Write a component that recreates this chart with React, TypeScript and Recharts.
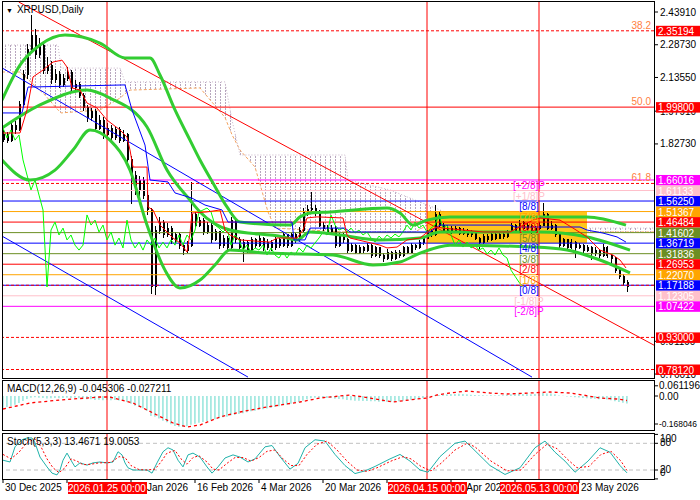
import React from "react";
import {
  ComposedChart,
  Bar,
  Line,
  Area,
  XAxis,
  YAxis,
  ReferenceLine,
  ReferenceArea,
  ReferenceDot,
} from "recharts";

const FONT = "'Liberation Sans', Arial, sans-serif";

// daily candles, day 0 = 30 Dec 2025
const opens = [
  1.850, 1.869, 1.845, 1.915, 1.892, 2.008, 2.147, 2.263, 2.332, 2.240,
  2.286, 2.170, 2.193, 2.124, 2.147, 2.101, 2.133, 2.160, 2.087, 2.101,
  2.054, 1.994, 1.948, 1.976, 1.901, 1.938, 1.869, 1.901, 1.855, 1.892,
  1.845, 1.869, 1.753, 1.683, 1.614, 1.660, 1.590, 1.521, 1.164, 1.428,
  1.465, 1.405, 1.437, 1.382, 1.405, 1.358, 1.335, 1.358, 1.498, 1.451,
  1.474, 1.419, 1.451, 1.382, 1.419, 1.358, 1.391, 1.345, 1.474, 1.382,
  1.345, 1.372, 1.335, 1.382, 1.358, 1.391, 1.345, 1.372, 1.345, 1.382,
  1.358, 1.405, 1.358, 1.405, 1.382, 1.428, 1.512, 1.521, 1.530, 1.512,
  1.451, 1.437, 1.419, 1.437, 1.358, 1.405, 1.382, 1.335, 1.358, 1.326,
  1.345, 1.335, 1.358, 1.312, 1.345, 1.312, 1.298, 1.326, 1.298, 1.326,
  1.312, 1.345, 1.326, 1.358, 1.345, 1.368, 1.391, 1.419, 1.405, 1.498,
  1.451, 1.428, 1.437, 1.419, 1.437, 1.414, 1.428, 1.405, 1.419, 1.391,
  1.372, 1.400, 1.382, 1.405, 1.391, 1.409, 1.396, 1.419, 1.451, 1.428,
  1.465, 1.437, 1.451, 1.419, 1.437, 1.451, 1.498, 1.437, 1.451, 1.405,
  1.358, 1.382, 1.349, 1.372, 1.345, 1.358, 1.335, 1.345, 1.317, 1.335,
  1.312, 1.345, 1.312, 1.298, 1.242, 1.214, 1.186,
];
const highs = [
  1.890, 1.882, 1.930, 1.935, 2.025, 2.170, 2.290, 2.425, 2.360, 2.320,
  2.300, 2.230, 2.210, 2.175, 2.165, 2.150, 2.185, 2.170, 2.125, 2.115,
  2.065, 2.010, 1.995, 1.990, 1.960, 1.950, 1.925, 1.915, 1.910, 1.905,
  1.890, 1.880, 1.770, 1.700, 1.680, 1.675, 1.610, 1.530, 1.445, 1.490,
  1.475, 1.460, 1.445, 1.420, 1.415, 1.370, 1.375, 1.650, 1.510, 1.490,
  1.485, 1.465, 1.460, 1.435, 1.425, 1.405, 1.400, 1.490, 1.480, 1.395,
  1.385, 1.380, 1.395, 1.392, 1.405, 1.398, 1.385, 1.380, 1.395, 1.390,
  1.418, 1.410, 1.415, 1.412, 1.440, 1.530, 1.545, 1.604, 1.545, 1.520,
  1.465, 1.450, 1.450, 1.445, 1.415, 1.412, 1.390, 1.370, 1.365, 1.358,
  1.352, 1.368, 1.362, 1.355, 1.350, 1.320, 1.338, 1.332, 1.335, 1.335,
  1.355, 1.352, 1.368, 1.365, 1.380, 1.400, 1.430, 1.432, 1.545, 1.512,
  1.460, 1.450, 1.445, 1.448, 1.442, 1.438, 1.435, 1.428, 1.425, 1.398,
  1.410, 1.408, 1.415, 1.412, 1.418, 1.415, 1.428, 1.462, 1.458, 1.475,
  1.470, 1.462, 1.458, 1.448, 1.465, 1.553, 1.505, 1.470, 1.458, 1.412,
  1.392, 1.388, 1.385, 1.378, 1.370, 1.365, 1.358, 1.352, 1.348, 1.340,
  1.365, 1.352, 1.318, 1.305, 1.250, 1.222, 1.195,
];
const lows = [
  1.835, 1.830, 1.838, 1.875, 1.885, 1.998, 2.130, 2.250, 2.220, 2.225,
  2.150, 2.150, 2.105, 2.110, 2.085, 2.090, 2.120, 2.070, 2.075, 2.040,
  1.980, 1.930, 1.935, 1.885, 1.890, 1.850, 1.855, 1.840, 1.845, 1.830,
  1.835, 1.735, 1.550, 1.590, 1.560, 1.570, 1.500, 1.130, 1.127, 1.410,
  1.390, 1.395, 1.365, 1.370, 1.340, 1.310, 1.320, 1.350, 1.440, 1.440,
  1.405, 1.410, 1.370, 1.375, 1.340, 1.345, 1.330, 1.340, 1.370, 1.330,
  1.280, 1.320, 1.325, 1.345, 1.350, 1.330, 1.335, 1.330, 1.335, 1.345,
  1.350, 1.345, 1.350, 1.370, 1.375, 1.420, 1.495, 1.505, 1.495, 1.440,
  1.425, 1.405, 1.410, 1.345, 1.350, 1.370, 1.320, 1.325, 1.315, 1.318,
  1.322, 1.328, 1.300, 1.305, 1.300, 1.280, 1.290, 1.285, 1.290, 1.300,
  1.305, 1.315, 1.320, 1.335, 1.338, 1.360, 1.385, 1.395, 1.400, 1.440,
  1.418, 1.420, 1.410, 1.412, 1.405, 1.405, 1.395, 1.398, 1.380, 1.340,
  1.365, 1.372, 1.375, 1.382, 1.385, 1.388, 1.390, 1.412, 1.420, 1.422,
  1.428, 1.430, 1.410, 1.412, 1.430, 1.445, 1.428, 1.430, 1.395, 1.345,
  1.350, 1.335, 1.340, 1.300, 1.338, 1.322, 1.325, 1.290, 1.308, 1.300,
  1.305, 1.300, 1.260, 1.230, 1.200, 1.170, 1.140,
];
const closes = [
  1.869, 1.845, 1.915, 1.892, 2.008, 2.147, 2.263, 2.332, 2.240, 2.286,
  2.170, 2.193, 2.124, 2.147, 2.101, 2.133, 2.160, 2.087, 2.101, 2.054,
  1.994, 1.948, 1.976, 1.901, 1.938, 1.869, 1.901, 1.855, 1.892, 1.845,
  1.869, 1.753, 1.683, 1.614, 1.660, 1.590, 1.521, 1.164, 1.428, 1.465,
  1.405, 1.437, 1.382, 1.405, 1.358, 1.335, 1.358, 1.498, 1.451, 1.474,
  1.419, 1.451, 1.382, 1.419, 1.358, 1.391, 1.345, 1.474, 1.382, 1.345,
  1.372, 1.335, 1.382, 1.358, 1.391, 1.345, 1.372, 1.345, 1.382, 1.358,
  1.405, 1.358, 1.405, 1.382, 1.428, 1.512, 1.521, 1.530, 1.512, 1.451,
  1.437, 1.419, 1.437, 1.358, 1.405, 1.382, 1.335, 1.358, 1.326, 1.345,
  1.335, 1.358, 1.312, 1.345, 1.312, 1.298, 1.326, 1.298, 1.326, 1.312,
  1.345, 1.326, 1.358, 1.345, 1.368, 1.391, 1.419, 1.405, 1.498, 1.451,
  1.428, 1.437, 1.419, 1.437, 1.414, 1.428, 1.405, 1.419, 1.391, 1.372,
  1.400, 1.382, 1.405, 1.391, 1.409, 1.396, 1.419, 1.451, 1.428, 1.465,
  1.437, 1.451, 1.419, 1.437, 1.451, 1.498, 1.437, 1.451, 1.405, 1.358,
  1.382, 1.349, 1.372, 1.345, 1.358, 1.335, 1.345, 1.317, 1.335, 1.312,
  1.345, 1.312, 1.298, 1.242, 1.214, 1.186, 1.165,
];

// indicator lines as [day, price]
const bbUpper = [
  [-0.25, 2.031], [4.25, 2.193], [9.25, 2.286], [15.5, 2.332], [24.25, 2.295], [30.5, 2.226],
  [36.75, 2.226], [39.25, 2.147], [43, 1.985], [46.75, 1.845], [49.25, 1.753], [52.5, 1.646],
  [56, 1.535], [59.25, 1.465], [71.75, 1.451], [74.25, 1.489], [76.75, 1.507], [81.75, 1.512],
  [96, 1.53], [99.25, 1.507], [102.5, 1.451], [106, 1.474], [111.75, 1.489], [129.25, 1.489],
  [146, 1.489], [155.75, 1.451],
];
const bbMiddle = [
  [-0.25, 1.901], [9.25, 2.008], [21, 2.077], [26.75, 2.04], [36, 1.906], [41, 1.706],
  [46.75, 1.567], [49.25, 1.512], [56.75, 1.428], [70, 1.396], [73.5, 1.382], [76.75, 1.419],
  [84.25, 1.405], [94.25, 1.382], [104.25, 1.391], [109.25, 1.419], [134.25, 1.419],
  [146, 1.396], [156.75, 1.335],
];
const bbLower = [
  [-0.25, 1.753], [6.75, 1.66], [13, 1.706], [17.5, 1.799], [21.75, 1.892], [26.75, 1.845],
  [31.75, 1.706], [36, 1.451], [40.5, 1.242], [44.25, 1.159], [49.25, 1.196], [53, 1.266],
  [56.75, 1.335], [66, 1.321], [82.5, 1.312], [92.5, 1.266], [99.25, 1.28], [104.25, 1.321],
  [111.75, 1.358], [132.5, 1.349], [141, 1.335], [149.25, 1.289], [156.75, 1.229],
];
const tenkan = [
  [0, 1.878], [4.25, 1.878], [6, 1.985], [7.5, 2.138], [10, 2.17], [12.5, 2.207], [14.75, 2.216],
  [16, 2.184], [17.25, 2.087], [19.25, 2.077], [21, 2.017], [23.5, 1.994], [26, 1.938],
  [29.25, 1.892], [31, 1.859], [31.75, 1.799], [32.5, 1.72], [36, 1.72], [36.25, 1.535],
  [37.5, 1.521], [39.25, 1.451], [41, 1.419], [42.5, 1.391], [44.25, 1.368], [46, 1.326],
  [46.75, 1.414], [47.25, 1.507], [51, 1.512], [54.25, 1.521], [55.5, 1.428], [56.75, 1.405],
  [59.25, 1.382], [66.75, 1.372], [68.5, 1.391], [73.5, 1.391], [75, 1.428], [76, 1.484],
  [78.5, 1.489], [85, 1.484], [86, 1.405], [86.75, 1.391], [94.25, 1.358], [96, 1.345],
  [98.5, 1.349], [101, 1.382], [104.25, 1.391], [106.75, 1.428], [108.5, 1.442], [110, 1.437],
  [120, 1.419], [126.75, 1.419], [132.5, 1.474], [134.25, 1.484], [139.25, 1.474],
  [142.5, 1.437], [146, 1.396], [149.25, 1.335], [152.5, 1.312], [154.25, 1.289], [155.75, 1.252],
];
const kijun = [
  [-0.25, 1.971], [4.75, 1.971], [6.25, 2.091], [30.5, 2.101], [32.25, 1.985], [35.5, 1.822],
  [36.75, 1.66], [41.25, 1.651], [43, 1.6], [47.25, 1.576], [50.5, 1.544], [54.75, 1.521],
  [56.25, 1.465], [72.25, 1.465], [72.75, 1.382], [75.5, 1.382], [76.75, 1.437], [85.5, 1.437],
  [86.75, 1.419], [106.75, 1.419], [109.25, 1.451], [126.75, 1.451], [128, 1.442],
  [144.25, 1.442], [146, 1.428], [150, 1.414], [153.5, 1.396], [155.75, 1.372],
];

// ichimoku cloud edges
const cloudDays = [
  -0.25, 4.25, 10.5, 13.75, 14.5, 24.25, 29.25, 30.5, 31.75, 49.25, 55.5, 57.25, 59.25, 63,
  66.25, 68, 85.5, 86.25, 96.75, 103, 109.25, 114.25, 116.75, 139.25, 144.25, 162.75,
];
const spanB = [
  2.286, 2.286, 2.286, 2.286, 2.179, 2.179, 2.179, 2.115, 2.115, 2.115, 2.115, 1.938, 1.776,
  1.776, 1.776, 1.776, 1.776, 1.66, 1.614, 1.567, 1.521, 1.484, 1.451, 1.451, 1.437, 1.437,
];
const spanA = [
  2.161, 2.161, 2.054, 1.985, 1.971, 1.985, 2.04, 2.06, 2.077, 2.087, 1.95, 1.87, 1.799, 1.72,
  1.512, 1.437, 1.419, 1.419, 1.419, 1.419, 1.484, 1.484, 1.419, 1.419, 1.419, 1.419,
];

// trend lines [day, price] pairs
const redTrend = [[3.93, 2.4855], [162.75, 0.894]];
const blueTrendUpper = [[-0.25, 2.18], [132.25, 0.746]];
const blueTrendLower = [[-0.25, 1.4], [61.25, 0.746]];

// MACD(12,26,9)
const macdHist = [
  -0.070, -0.066, -0.060, -0.052, -0.042, -0.030, -0.018, -0.010, -0.008, -0.010,
  -0.012, -0.015, -0.013, -0.012, -0.014, -0.012, -0.010, -0.012, -0.011, -0.013,
  -0.016, -0.020, -0.020, -0.024, -0.022, -0.025, -0.024, -0.026, -0.024, -0.027,
  -0.028, -0.036, -0.046, -0.058, -0.064, -0.074, -0.088, -0.120, -0.125, -0.135,
  -0.148, -0.158, -0.170, -0.180, -0.185, -0.186, -0.182, -0.172, -0.166, -0.160,
  -0.156, -0.150, -0.146, -0.140, -0.135, -0.128, -0.124, -0.115, -0.112, -0.108,
  -0.103, -0.098, -0.092, -0.088, -0.083, -0.080, -0.075, -0.072, -0.066, -0.062,
  -0.056, -0.052, -0.046, -0.042, -0.036, -0.028, -0.020, -0.014, -0.010, -0.010,
  -0.011, -0.012, -0.012, -0.016, -0.018, -0.020, -0.024, -0.026, -0.028, -0.028,
  -0.030, -0.030, -0.032, -0.032, -0.034, -0.035, -0.034, -0.035, -0.033, -0.032,
  -0.028, -0.026, -0.022, -0.020, -0.016, -0.012, -0.008, -0.004, 0.004, 0.006,
  0.008, 0.010, 0.012, 0.012, 0.014, 0.012, 0.010, 0.008, 0.006, 0.004,
  0.004, 0.003, 0.004, 0.003, 0.004, 0.005, 0.007, 0.010, 0.010, 0.013,
  0.012, 0.013, 0.011, 0.012, 0.013, 0.018, 0.015, 0.015, 0.010, 0.003,
  0.001, -0.003, -0.004, -0.008, -0.009, -0.012, -0.013, -0.016, -0.016, -0.019,
  -0.018, -0.021, -0.025, -0.031, -0.036, -0.041, -0.045,
];
const macdSignal = [
  [0, -0.078], [6.75, -0.042], [14.25, -0.024], [24.25, -0.006], [26.75, -0.006], [32.5, -0.042],
  [37.5, -0.102], [42.5, -0.162], [46, -0.186], [49.25, -0.174], [54.25, -0.126], [59.25, -0.096],
  [66, -0.066], [74.25, -0.036], [79.25, -0.012], [86.75, 0.006], [91.75, -0.012], [97.5, -0.036],
  [103.5, -0.018], [106, -0.012], [108.5, 0.006], [111.75, 0.018], [116, 0.03], [121.75, 0.018],
  [126, 0.012], [131.75, 0.018], [136.75, 0.024], [141.75, 0.018], [145, 0.006], [149.25, -0.012],
  [153.5, -0.018], [156, -0.027],
];

// Stochastic(5,3,3)
const stochMain = [
  [0, 42], [1.75, 38], [3, 72], [4.75, 88], [6, 92], [7.25, 92], [8, 81], [9.25, 49], [11, 27],
  [12.25, 13], [13.5, 9], [14.25, 20], [15, 42], [16, 58], [17.25, 38], [18, 27], [19.25, 36],
  [21, 31], [22.5, 36], [24.25, 38], [26, 36], [27.5, 38], [28.75, 61], [29.75, 54], [30.5, 36],
  [31.25, 25], [32.5, 20], [34.25, 20], [36, 20], [37.25, 13], [38.5, 36], [40, 61], [41.25, 70],
  [42.5, 65], [43.75, 42], [45, 27], [46.25, 54], [47.5, 58], [49.25, 49], [51, 27], [52.25, 13],
  [53.75, 27], [55.5, 47], [57.5, 54], [59.25, 49], [61.25, 38], [63, 45], [65.5, 72], [67.25, 75],
  [69.25, 50], [71.75, 22], [73.75, 35], [75.5, 70], [78, 88], [80.5, 85], [83, 55], [85.5, 30],
  [88, 12], [90.5, 18], [93, 28], [96.75, 45], [99.25, 55], [101.75, 40], [104.25, 20],
  [106.25, 15], [109.25, 50], [113, 80], [115.5, 85], [117.25, 70], [121.75, 30], [125.5, 10],
  [129.25, 25], [133, 70], [135.5, 85], [138, 60], [140.5, 40], [143, 15], [146.25, 40],
  [149.25, 70], [151.75, 60], [154.25, 30], [156, 13.5],
];
const stochSignal = [
  [0, 55], [2, 45], [4, 60], [6, 82], [8, 90], [9.5, 72], [11, 45], [12.5, 25], [14, 14],
  [15.5, 25], [17, 45], [18.5, 40], [20, 32], [22, 33], [24, 36], [27, 37], [29, 50], [30.5, 48],
  [32, 30], [34, 21], [36, 20], [38, 22], [39.5, 38], [41, 58], [43, 64], [44.5, 45], [46, 33],
  [47.5, 48], [49, 52], [51, 38], [52.5, 22], [54, 20], [56, 35], [58, 48], [60, 48], [62, 40],
  [64, 48], [66, 62], [68, 65], [70, 45], [72, 30], [74, 30], [76, 55], [78.5, 78], [81, 85],
  [83.5, 65], [86, 40], [88.5, 20], [91, 17], [93.5, 25], [97, 40], [100, 50], [102, 45],
  [104.5, 28], [107, 18], [109.5, 35], [113, 65], [116, 80], [118, 72], [122, 40], [126, 18],
  [129.5, 20], [133, 55], [136, 78], [138.5, 68], [141, 45], [143.5, 25], [146.5, 28],
  [149.5, 55], [152, 62], [154.5, 40], [156, 19],
];

// axes
const priceTicks = [2.4391, 2.2873, 2.1355, 1.9791, 1.8273, 0.9119, 0.7601];
const macdTicks = [0.061196, 0, -0.168046];
const stochTicks = [100, 80, 20, 0];
const dateTickDays = [0, 16, 32, 48, 64, 80, 96, 112, 128, 144];
const dateTickLabels = [
  "30 Dec 2025", "15 Jan 2026", "31 Jan 2026", "16 Feb 2026", "4 Mar 2026",
  "20 Mar 2026", "5 Apr 2026", "21 Apr 2026", "7 May 2026", "23 May 2026",
];
const markerDays = [26, 106, 134];
const markerLabels = ["2026.01.25 00:00", "2026.04.15 00:00", "2026.05.13 00:00"];

// Murray math levels
const murrayLevels = [
  1.66016, 1.61133, 1.5625, 1.51367, 1.46484, 1.41602, 1.36719, 1.31836, 1.26953, 1.2207,
  1.17188, 1.12305, 1.07422,
];
const murrayNames = [
  "[+2/8]P", "[+1/8]P", "[8/8]", "[7/8]", "[6/8]", "[5/8]", "[4/8]", "[3/8]", "[2/8]", "[1/8]",
  "[0/8]", "[-1/8]P", "[-2/8]P",
];
const murrayColors = [
  "#FF00FF", "#FFC0CB", "#0000FF", "#FFA500", "#FF0000", "#6B8E23", "#0000FF", "#6B8E23",
  "#FF0000", "#FFA500", "#0000FF", "#FFC0CB", "#FF00FF",
];

// Fibonacci levels
const fibLevels = [2.35194, 1.998, 1.64406];
const fibNames = ["38.2", "50.0", "61.8"];
const supportLevels = [0.93, 0.7812];

// coloured price tags on the right scale
const tagPrices = [2.35194, 1.998, ...murrayLevels, 0.93, 0.7812];
const tagColors = ["#FF0000", "#FF0000", ...murrayColors, "#FF0000", "#FF0000"];

const X_DOMAIN = [-0.25, 162.75];
const P_DOMAIN = [0.7418, 2.4855];
const MACD_DOMAIN = [-0.21, 0.09];
const STOCH_DOMAIN = [-0.2, 100.9];

const candles = opens.map((o, i) => ({
  d: i,
  o,
  h: highs[i],
  l: lows[i],
  c: closes[i],
  range: [lows[i], highs[i]],
}));
const cloudRows = cloudDays.map((d, i) => ({ d, a: spanA[i], b: spanB[i], band: [spanA[i], spanB[i]] }));
const macdRows = macdHist.map((m, i) => ({ d: i, m }));
const pts = (arr: number[][]) => arr.map(([d, v]) => ({ d, v }));
const chikou = closes.map((c, i) => ({ d: i - 26, v: c }));
const seg = (arr: number[][]) => arr.map(([x, y]) => ({ x, y }));

const mainMargin = { top: 2, right: 0, bottom: 2, left: 2 };
const tickFont = { fontSize: 10, fill: "#000", fontFamily: FONT };

const Candle = (props: any) => {
  const { x, y, width, height, payload } = props;
  if (!payload || height == null) return null;
  const { o, h, l, c } = payload;
  const k = height / (h - l || 1e-6);
  const cx = Math.round(x + width / 2) + 0.5;
  const top = y + (h - Math.max(o, c)) * k;
  const bot = y + (h - Math.min(o, c)) * k;
  const up = c >= o;
  return (
    <g shapeRendering="crispEdges">
      <line x1={cx} x2={cx} y1={y} y2={y + height} stroke="#000" />
      <rect
        x={Math.round(x) + 0.5}
        y={top}
        width={Math.max(width - 1, 1)}
        height={Math.max(bot - top, 1)}
        fill={up ? "#fff" : "#000"}
        stroke="#000"
      />
    </g>
  );
};

const PriceTag = (props: any) => {
  const { x, y, payload, index } = props;
  return (
    <g>
      <rect x={x} y={y - 5} width={46} height={10.5} fill={tagColors[index]} />
      <text x={x + 2} y={y + 4} fontSize={10} fontFamily={FONT} fill="#fff">
        {payload.value.toFixed(5)}
      </text>
    </g>
  );
};

const MacdTick = (props: any) => {
  const { x, y, payload } = props;
  const v = payload.value;
  const s = v === 0 ? "0.00" : v.toFixed(6);
  return (
    <text
      x={x}
      y={y}
      dy="0.355em"
      fontSize={s.length > 8 ? 9 : 10}
      fontFamily={FONT}
      fill="#000"
      textLength={s.length > 8 ? 38 : undefined}
      lengthAdjust="spacingAndGlyphs"
    >
      {s}
    </text>
  );
};

// MT4 prints the stochastic scale labels a little inside the window
const stochLabelShift: Record<number, number> = { 100: 4, 80: -1, 20: -1, 0: -6 };
const StochTick = (props: any) => {
  const { x, y, payload } = props;
  return (
    <text x={x} y={y + (stochLabelShift[payload.value] || 0)} dy="0.355em" fontSize={10} fontFamily={FONT} fill="#000">
      {payload.value}
    </text>
  );
};

const DateTick = (props: any) => {
  const { x, y, payload } = props;
  const i = dateTickDays.indexOf(payload.value);
  return (
    <g>
      <line x1={x} x2={x} y1={y} y2={y + 4} stroke="#000" />
      <text x={x + 2} y={y + 12} fontSize={10} fontFamily={FONT} fill="#000">
        {dateTickLabels[i]}
      </text>
    </g>
  );
};

const MarkerTag = (props: any) => {
  const { x, y, payload } = props;
  const i = markerDays.indexOf(payload.value);
  return (
    <g>
      <rect x={x - 39} y={y + 3} width={79} height={12} fill="#FF0000" />
      <text x={x} y={y + 13} textAnchor="middle" fontSize={10} fontFamily={FONT} fill="#fff">
        {markerLabels[i]}
      </text>
    </g>
  );
};

const frame = (top: number, height: number) => ({
  position: "absolute" as const,
  left: 2,
  top,
  width: 653,
  height,
  border: "1px solid #000",
  boxSizing: "border-box" as const,
  pointerEvents: "none" as const,
});

const layer = (top: number) => ({ position: "absolute" as const, left: 0, top });

const markerLines = markerDays.map((d) => (
  <ReferenceLine key={"m" + d} x={d} stroke="#FF0000" strokeWidth={1} />
));

export default function App() {
  return (
    <div
      style={{
        position: "absolute",
        left: 0,
        top: 0,
        width: 700,
        height: 500,
        background: "#fff",
        overflow: "hidden",
        fontFamily: FONT,
      }}
    >
      {/* ichimoku cloud under everything */}
      <div style={layer(0)}>
        <ComposedChart width={700} height={380} data={cloudRows} margin={mainMargin}>
          <defs>
            <pattern id="kumo" width="5" height="3" patternUnits="userSpaceOnUse">
              <rect x="0" y="0" width="1" height="2" fill="#B7A6BE" />
            </pattern>
          </defs>
          <XAxis dataKey="d" type="number" domain={X_DOMAIN} allowDataOverflow hide />
          <YAxis orientation="right" width={46} type="number" domain={P_DOMAIN} allowDataOverflow tick={false} axisLine={false} tickLine={false} />
          <Area dataKey="band" type="linear" fill="url(#kumo)" fillOpacity={1} stroke="none" isAnimationActive={false} />
          <Line dataKey="a" type="linear" stroke="#F4A460" strokeDasharray="3 2" dot={false} isAnimationActive={false} />
          <Line dataKey="b" type="linear" stroke="#C8B4C8" strokeDasharray="1 2" dot={false} isAnimationActive={false} />
        </ComposedChart>
      </div>

      {/* price panel */}
      <div style={layer(0)}>
        <ComposedChart width={700} height={380} data={candles} margin={mainMargin}>
          <XAxis dataKey="d" type="number" domain={X_DOMAIN} allowDataOverflow hide />
          <YAxis
            orientation="right"
            width={46}
            type="number"
            domain={P_DOMAIN}
            allowDataOverflow
            ticks={priceTicks}
            interval={0}
            tick={tickFont}
            tickSize={4}
            tickMargin={2}
            axisLine={false}
            tickLine={{ stroke: "#000" }}
            tickFormatter={(v: number) => v.toFixed(5)}
          />
          <ReferenceArea x1={106} x2={146} y1={1.36719} y2={1.51367} fill="#FFC61A" fillOpacity={1} stroke="none" />
          <Bar dataKey="range" barSize={3} shape={Candle} isAnimationActive={false} />
          {murrayLevels.map((lv, i) => (
            <ReferenceLine key={"mm" + i} y={lv} stroke={murrayColors[i]} strokeWidth={1} />
          ))}
          <ReferenceLine y={murrayLevels[10]} stroke="#FF0000" strokeDasharray="3 2" />
          <ReferenceLine y={fibLevels[0]} stroke="#FF0000" strokeDasharray="3 2" />
          <ReferenceLine y={fibLevels[1]} stroke="#FF0000" />
          <ReferenceLine y={fibLevels[2]} stroke="#FF0000" strokeDasharray="3 2" />
          {supportLevels.map((lv) => (
            <ReferenceLine key={"s" + lv} y={lv} stroke="#FF0000" strokeDasharray="3 2" />
          ))}
          {markerLines}
          <ReferenceLine segment={seg(redTrend)} stroke="#FF0000" ifOverflow="hidden" />
          <ReferenceLine segment={seg(blueTrendUpper)} stroke="#0000FF" ifOverflow="hidden" />
          <ReferenceLine segment={seg(blueTrendLower)} stroke="#0000FF" ifOverflow="hidden" />
          <Line data={chikou} dataKey="v" type="linear" stroke="#00FF00" dot={false} isAnimationActive={false} />
          <Line data={pts(bbUpper)} dataKey="v" type="monotone" stroke="#32CD32" strokeWidth={3} dot={false} isAnimationActive={false} />
          <Line data={pts(bbMiddle)} dataKey="v" type="monotone" stroke="#32CD32" strokeWidth={3} dot={false} isAnimationActive={false} />
          <Line data={pts(bbLower)} dataKey="v" type="monotone" stroke="#32CD32" strokeWidth={3} dot={false} isAnimationActive={false} />
          <Line data={pts(kijun)} dataKey="v" type="linear" stroke="#0000FF" dot={false} isAnimationActive={false} />
          <Line data={pts(tenkan)} dataKey="v" type="linear" stroke="#FF0000" dot={false} isAnimationActive={false} />
        </ComposedChart>
      </div>

      {/* labels over the price panel */}
      <div style={{ ...layer(0), pointerEvents: "none" }}>
        <ComposedChart width={700} height={380} data={candles} margin={mainMargin}>
          <XAxis dataKey="d" type="number" domain={X_DOMAIN} allowDataOverflow hide />
          <YAxis
            orientation="right"
            width={46}
            type="number"
            domain={P_DOMAIN}
            allowDataOverflow
            ticks={tagPrices}
            interval={0}
            tick={<PriceTag />}
            tickSize={0}
            tickMargin={2}
            axisLine={false}
            tickLine={false}
          />
          {murrayLevels.map((lv, i) => (
            <ReferenceDot
              key={"ml" + i}
              x={131.5}
              y={lv}
              r={0}
              fill="none"
              stroke="none"
              label={(p: any) => (
                <text x={p.viewBox.x} y={p.viewBox.y + 9} textAnchor="middle" fontSize={10} fontFamily={FONT} fill={murrayColors[i]}>
                  {murrayNames[i]}
                </text>
              )}
            />
          ))}
          {fibLevels.map((lv, i) => (
            <ReferenceDot
              key={"fl" + i}
              x={162.5}
              y={lv}
              r={0}
              fill="none"
              stroke="none"
              label={(p: any) => (
                <text x={p.viewBox.x - 2} y={p.viewBox.y - 2} textAnchor="end" fontSize={10} fontFamily={FONT} fill="#FF7F3F">
                  {fibNames[i]}
                </text>
              )}
            />
          ))}
        </ComposedChart>
      </div>

      {/* MACD panel */}
      <div style={layer(380)}>
        <ComposedChart width={700} height={52} data={macdRows} margin={{ top: 1, right: 0, bottom: 1, left: 2 }}>
          <XAxis dataKey="d" type="number" domain={X_DOMAIN} allowDataOverflow hide />
          <YAxis
            orientation="right"
            width={46}
            type="number"
            domain={MACD_DOMAIN}
            allowDataOverflow
            ticks={macdTicks}
            interval={0}
            tick={<MacdTick />}
            tickSize={4}
            tickMargin={1}
            axisLine={false}
            tickLine={{ stroke: "#000" }}
          />
          {markerLines}
          <Bar dataKey="m" barSize={1} fill="#4FD3C4" isAnimationActive={false} />
          <Line data={pts(macdSignal)} dataKey="v" type="linear" stroke="#FF0000" strokeWidth={1.3} strokeDasharray="3 3" dot={false} isAnimationActive={false} />
        </ComposedChart>
      </div>

      {/* Stochastic panel with the date axis */}
      <div style={layer(433)}>
        <ComposedChart width={700} height={67} data={candles} margin={{ top: 1, right: 0, bottom: 0, left: 2 }}>
          <XAxis
            dataKey="d"
            type="number"
            domain={X_DOMAIN}
            allowDataOverflow
            height={21}
            ticks={dateTickDays}
            interval={0}
            tick={<DateTick />}
            tickSize={0}
            tickMargin={0}
            axisLine={false}
            tickLine={false}
          />
          <YAxis
            orientation="right"
            width={46}
            type="number"
            domain={STOCH_DOMAIN}
            allowDataOverflow
            ticks={stochTicks}
            interval={0}
            tick={<StochTick />}
            tickSize={4}
            tickMargin={2}
            axisLine={false}
            tickLine={{ stroke: "#000" }}
          />
          <ReferenceLine y={80} stroke="#C0C0C0" strokeDasharray="4 3" />
          <ReferenceLine y={20} stroke="#C0C0C0" strokeDasharray="4 3" />
          {markerLines}
          <Line data={pts(stochMain)} dataKey="v" type="linear" stroke="#20B2AA" dot={false} isAnimationActive={false} />
          <Line data={pts(stochSignal)} dataKey="v" type="linear" stroke="#FF0000" strokeDasharray="2 2" dot={false} isAnimationActive={false} />
        </ComposedChart>
      </div>

      {/* red date tags for the vertical lines */}
      <div style={{ ...layer(433), pointerEvents: "none" }}>
        <ComposedChart width={700} height={67} data={candles} margin={{ top: 1, right: 0, bottom: 0, left: 2 }}>
          <XAxis
            dataKey="d"
            type="number"
            domain={X_DOMAIN}
            allowDataOverflow
            height={21}
            ticks={markerDays}
            interval={0}
            tick={<MarkerTag />}
            tickSize={0}
            tickMargin={0}
            axisLine={false}
            tickLine={false}
          />
          <YAxis orientation="right" width={46} type="number" domain={STOCH_DOMAIN} tick={false} axisLine={false} tickLine={false} />
        </ComposedChart>
      </div>

      {/* panel frames */}
      <div style={frame(1, 378)} />
      <div style={frame(380, 51)} />
      <div style={frame(433, 47)} />

      {/* panel titles */}
      <div style={{ position: "absolute", left: 6, top: 4, fontSize: 10, color: "#000", whiteSpace: "nowrap" }}>
        <span style={{ fontSize: 7, marginRight: 4 }}>▼</span>XRPUSD,Daily
      </div>
      <div style={{ position: "absolute", left: 7, top: 383, fontSize: 10, color: "#000", whiteSpace: "nowrap" }}>
        MACD(12,26,9) -0.045306 -0.027211
      </div>
      <div style={{ position: "absolute", left: 7, top: 436, fontSize: 10, color: "#000", whiteSpace: "nowrap" }}>
        Stoch(5,3,3) 13.4671 19.0053
      </div>
    </div>
  );
}
